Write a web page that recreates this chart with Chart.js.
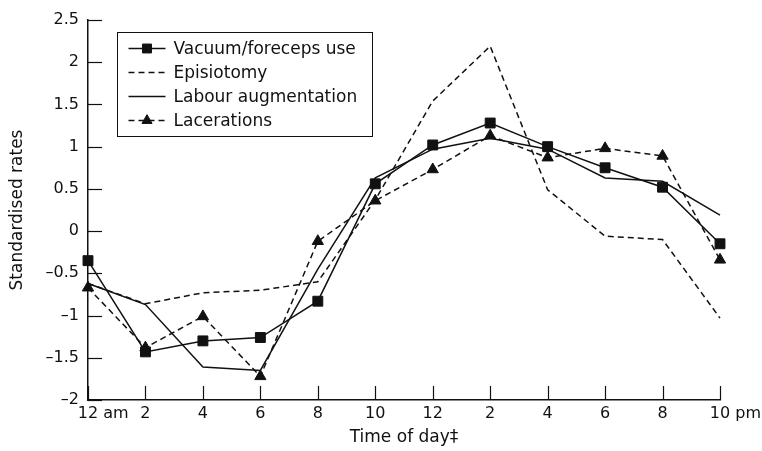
<!DOCTYPE html>
<html>
<head>
<meta charset="utf-8">
<script src="https://cdn.jsdelivr.net/npm/chart.js@4.4.1/dist/chart.umd.min.js"></script>
<style>
  html, body { margin: 0; padding: 0; background: #fff; }
  #wrap { width: 762px; height: 451px; }
</style>
</head>
<body>
<div id="wrap"><canvas id="chart" width="762" height="451"></canvas></div>
<script>
// two-hourly slots through the day
const TIMES = ['12 am', '2', '4', '6', '8', '10', '12', '2', '4', '6', '8', '10 pm'];

// standardised rates
const VACUUM = [-0.35, -1.43, -1.30, -1.26, -0.83, 0.56, 1.02, 1.28, 1.00, 0.75, 0.52, -0.15];
const EPISIOTOMY = [-0.62, -0.86, -0.73, -0.70, -0.60, 0.37, 1.54, 2.19, 0.49, -0.06, -0.10, -1.03];
const LABOUR = [-0.62, -0.87, -1.61, -1.65, -0.45, 0.63, 0.97, 1.10, 0.97, 0.63, 0.59, 0.19];
const LACERATIONS = [-0.67, -1.38, -1.01, -1.72, -0.12, 0.36, 0.73, 1.13, 0.87, 0.98, 0.89, -0.34];

const Y_MIN = -2;
const Y_MAX = 2.5;
const Y_STEP = 0.5;

const INK = '#111';
const FONT = '"DejaVu Sans", sans-serif';

function series(label, data, dash, marker) {
  return {
    label,
    data,
    borderColor: INK,
    borderWidth: 1.5,
    borderDash: dash,
    tension: 0,
    clip: false,
    pointStyle: marker || 'circle',
    pointRadius: marker === 'rect' ? 7 : marker === 'triangle' ? 6.5 : 0,
    pointHoverRadius: 0,
    pointBackgroundColor: INK,
    pointBorderColor: INK,
    pointBorderWidth: 1,
  };
}

// inward ticks, split x labels ("12" centred on its tick, "am" trailing) and the boxed legend
const decor = {
  id: 'decor',
  afterDraw(chart) {
    const { ctx, chartArea, scales: { x, y } } = chart;
    ctx.save();
    ctx.strokeStyle = INK;
    ctx.lineWidth = 1.2;
    ctx.setLineDash([]);

    y.ticks.forEach((t, i) => {
      const py = Math.round(y.getPixelForTick(i)) + 0.5;
      ctx.beginPath();
      ctx.moveTo(chartArea.left, py);
      ctx.lineTo(chartArea.left + 14, py);
      ctx.stroke();
    });
    x.ticks.forEach((t, i) => {
      const px = Math.round(x.getPixelForTick(i)) + 0.5;
      ctx.beginPath();
      ctx.moveTo(px, chartArea.bottom);
      ctx.lineTo(px, chartArea.bottom - 14);
      ctx.stroke();
    });

    ctx.fillStyle = INK;
    ctx.font = '16px ' + FONT;
    ctx.textBaseline = 'middle';
    ctx.textAlign = 'left';
    TIMES.forEach((lab, i) => {
      const num = lab.split(' ')[0];
      const px = x.getPixelForTick(i);
      const w = ctx.measureText(num).width;
      ctx.fillText(lab, px - w / 2, chartArea.bottom + 14);
    });

    // legend box
    const box = { left: 117.5, top: 32.5, width: 255, height: 104 };
    ctx.lineWidth = 1;
    ctx.strokeRect(box.left, box.top, box.width, box.height);
    ctx.font = '17px ' + FONT;
    chart.data.datasets.forEach((ds, i) => {
      const cy = box.top + 16 + i * 24;
      ctx.save();
      ctx.lineWidth = ds.borderWidth;
      ctx.setLineDash(ds.borderDash || []);
      ctx.beginPath();
      ctx.moveTo(box.left + 11, cy);
      ctx.lineTo(box.left + 48, cy);
      ctx.stroke();
      ctx.setLineDash([]);
      if (ds.pointRadius > 0) {
        ctx.fillStyle = INK;
        ctx.lineWidth = 1;
        Chart.helpers.drawPoint(ctx, { pointStyle: ds.pointStyle, radius: ds.pointRadius * 0.9, rotation: 0, borderWidth: 1 }, box.left + 29.5, cy);
      }
      ctx.restore();
      ctx.fillText(ds.label, box.left + 56, cy + 1);
    });
    ctx.restore();
  },
};

new Chart(document.getElementById('chart'), {
  type: 'line',
  data: {
    labels: TIMES,
    datasets: [
      series('Vacuum/foreceps use', VACUUM, [], 'rect'),
      series('Episiotomy', EPISIOTOMY, [6, 4]),
      series('Labour augmentation', LABOUR, []),
      series('Lacerations', LACERATIONS, [6, 4], 'triangle'),
    ],
  },
  options: {
    responsive: false,
    devicePixelRatio: 1,
    animation: false,
    layout: { padding: { top: 20, right: 42, bottom: 0, left: 0 } },
    plugins: {
      legend: { display: false },
      tooltip: { enabled: false },
    },
    scales: {
      x: {
        type: 'category',
        offset: false,
        grid: { display: false, drawTicks: false },
        border: { display: true, color: INK, width: 1.5 },
        ticks: { display: false },
        title: {
          display: true,
          text: 'Time of day‡',
          color: INK,
          font: { family: FONT, size: 17 },
          padding: { top: 0, bottom: 3 },
        },
        afterFit: (scale) => { scale.height = 51; },
      },
      y: {
        min: Y_MIN,
        max: Y_MAX,
        grid: { display: false, drawTicks: false },
        border: { display: true, color: INK, width: 1.5 },
        ticks: {
          stepSize: Y_STEP,
          padding: 9,
          color: INK,
          font: { family: FONT, size: 16 },
          callback: (v) => String(v).replace('-', '–'),
        },
        title: {
          display: true,
          text: 'Standardised rates',
          color: INK,
          font: { family: FONT, size: 17 },
          padding: { top: 7, bottom: 0 },
        },
        afterFit: (scale) => { scale.width = 88; },
      },
    },
  },
  plugins: [decor],
});
</script>
</body>
</html>
